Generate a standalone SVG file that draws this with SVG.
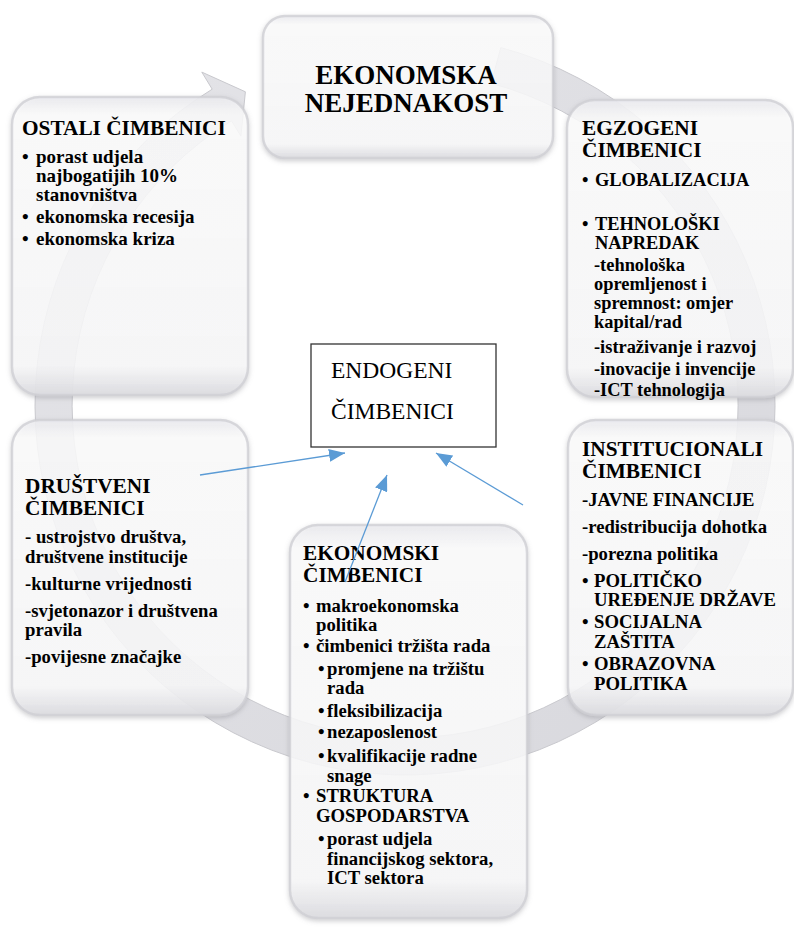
<svg xmlns="http://www.w3.org/2000/svg" width="794" height="929" viewBox="0 0 794 929">
<defs>
<style>
.t{font-family:"Liberation Serif","Times New Roman",serif;font-weight:bold;fill:#000;}
.h{font-size:21.3px;}
.b{font-size:18.7px;}
.o{font-size:19px;}
.s{font-size:18.4px;}
.box{fill:url(#bx);stroke:#cfcfd4;stroke-width:2.5;stroke-opacity:0.8;filter:url(#sh);}
.conn{stroke:#5B9BD5;stroke-width:1.3;fill:none;marker-end:url(#ah);}
</style>
<linearGradient id="bx" x1="0" y1="0" x2="0" y2="1">
<stop offset="0" stop-color="#ebebef" stop-opacity="0.9"/>
<stop offset="0.06" stop-color="#ffffff" stop-opacity="0.8"/>
<stop offset="0.9" stop-color="#fbfbfc" stop-opacity="0.82"/>
<stop offset="1" stop-color="#dcdce0" stop-opacity="0.95"/>
</linearGradient>
<linearGradient id="rg" x1="0" y1="0" x2="1" y2="1">
<stop offset="0" stop-color="#e4e4e8"/>
<stop offset="1" stop-color="#d8d8dd"/>
</linearGradient>
<filter id="sh" x="-10%" y="-10%" width="120%" height="120%">
<feDropShadow dx="0" dy="2" stdDeviation="2.5" flood-color="#8a8a90" flood-opacity="0.45"/>
</filter>
<marker id="ah" markerUnits="userSpaceOnUse" markerWidth="16" markerHeight="13" refX="16" refY="6.5" orient="auto">
<path d="M0,0 L16,6.5 L0,13 Z" fill="#5B9BD5"/>
</marker>
</defs>
<rect width="794" height="929" fill="#ffffff"/>
<g id="cycle-arrow">
<path d="M500.8,47.6 A370,370 0 1 1 212.2,89.2 L201.8,72.1 L245.4,91.8 L240.9,136.1 L231.5,120.8 A333,333 0 1 0 491.2,83.3 Z" fill="url(#rg)" stroke="#c9c9ce" stroke-width="1"/>
</g>
<g id="node-ekonomska-nejednakost">
<rect class="box" x="263" y="16" width="290" height="142" rx="22"/>
<text class="t" font-size="27" text-anchor="middle" x="406" y="84">EKONOMSKA</text>
<text class="t" font-size="27" text-anchor="middle" x="406" y="112">NEJEDNAKOST</text>
</g>
<g id="node-ostali">
<rect class="box" x="12" y="97" width="236" height="298" rx="28"/>
<text class="t h" x="22" y="135">OSTALI ČIMBENICI</text>
<text class="t o" x="22" y="163">•<tspan x="36">porast udjela</tspan></text>
<text class="t o" x="36" y="182">najbogatijih 10%</text>
<text class="t o" x="36" y="201">stanovništva</text>
<text class="t o" x="22" y="223">•<tspan x="36">ekonomska recesija</tspan></text>
<text class="t o" x="22" y="245">•<tspan x="36">ekonomska kriza</tspan></text>
</g>
<g id="node-egzogeni">
<rect class="box" x="567" y="100" width="226" height="297" rx="28"/>
<text class="t h" x="582" y="135">EGZOGENI</text>
<text class="t h" x="582" y="157">ČIMBENICI</text>
<text class="t s" x="582" y="186">•<tspan x="595">GLOBALIZACIJA</tspan></text>
<text class="t s" x="582" y="230">•<tspan x="595">TEHNOLOŠKI</tspan></text>
<text class="t s" x="595" y="249">NAPREDAK</text>
<text class="t s" x="594" y="271">-tehnološka</text>
<text class="t s" x="594" y="290">opremljenost i</text>
<text class="t s" x="594" y="309">spremnost: omjer</text>
<text class="t s" x="594" y="328">kapital/rad</text>
<text class="t s" x="594" y="353">-istraživanje i razvoj</text>
<text class="t s" x="594" y="375">-inovacije i invencije</text>
<text class="t s" x="594" y="396">-ICT tehnologija</text>
</g>
<g id="node-drustveni">
<rect class="box" x="12" y="420" width="236" height="295" rx="28"/>
<text class="t h" x="25" y="493">DRUŠTVENI</text>
<text class="t h" x="25" y="515">ČIMBENICI</text>
<text class="t b" x="25" y="543">- ustrojstvo društva,</text>
<text class="t b" x="25" y="563">društvene institucije</text>
<text class="t b" x="25" y="590">-kulturne vrijednosti</text>
<text class="t b" x="25" y="617">-svjetonazor i društvena</text>
<text class="t b" x="25" y="636">pravila</text>
<text class="t b" x="25" y="663">-povijesne značajke</text>
</g>
<g id="node-institucionali">
<rect class="box" x="568" y="420" width="225" height="295" rx="28"/>
<text class="t h" x="582" y="456">INSTITUCIONALI</text>
<text class="t h" x="582" y="478">ČIMBENICI</text>
<text class="t b" x="582" y="506">-JAVNE FINANCIJE</text>
<text class="t b" x="582" y="533">-redistribucija dohotka</text>
<text class="t b" x="582" y="560">-porezna politika</text>
<text class="t b" x="582" y="587">•<tspan x="594">POLITIČKO</tspan></text>
<text class="t b" x="594" y="606">UREĐENJE DRŽAVE</text>
<text class="t b" x="582" y="628">•<tspan x="594">SOCIJALNA</tspan></text>
<text class="t b" x="594" y="648">ZAŠTITA</text>
<text class="t b" x="582" y="670">•<tspan x="594">OBRAZOVNA</tspan></text>
<text class="t b" x="594" y="690">POLITIKA</text>
</g>
<g id="node-ekonomski">
<rect class="box" x="290" y="525" width="237" height="393" rx="28"/>
<text class="t h" x="303" y="560">EKONOMSKI</text>
<text class="t h" x="303" y="582">ČIMBENICI</text>
<text class="t b" x="303" y="612">•<tspan x="316">makroekonomska</tspan></text>
<text class="t b" x="316" y="631">politika</text>
<text class="t b" x="303" y="652">•<tspan x="316">čimbenici tržišta rada</tspan></text>
<text class="t b" x="318" y="675">•<tspan x="327">promjene na tržištu</tspan></text>
<text class="t b" x="327" y="694">rada</text>
<text class="t b" x="318" y="717">•<tspan x="327">fleksibilizacija</tspan></text>
<text class="t b" x="318" y="738">•<tspan x="327">nezaposlenost</tspan></text>
<text class="t b" x="318" y="762">•<tspan x="327">kvalifikacije radne</tspan></text>
<text class="t b" x="327" y="782">snage</text>
<text class="t b" x="303" y="802">•<tspan x="316">STRUKTURA</tspan></text>
<text class="t b" x="316" y="822">GOSPODARSTVA</text>
<text class="t b" x="318" y="845">•<tspan x="327">porast udjela</tspan></text>
<text class="t b" x="327" y="865">financijskog sektora,</text>
<text class="t b" x="327" y="884">ICT sektora</text>
</g>
<g id="node-endogeni">
<rect x="311" y="344" width="185" height="103" fill="#ffffff" stroke="#333333" stroke-width="1.3"/>
<text font-family="Liberation Serif, Times New Roman, serif" font-size="23.5" x="331" y="378">ENDOGENI</text>
<text font-family="Liberation Serif, Times New Roman, serif" font-size="23.5" x="331" y="419">ČIMBENICI</text>
</g>
<g id="connectors">
<line class="conn" x1="200" y1="475" x2="345" y2="453"/>
<line class="conn" x1="345" y1="582" x2="387" y2="475"/>
<line class="conn" x1="523" y1="505" x2="436" y2="453"/>
</g>
</svg>
